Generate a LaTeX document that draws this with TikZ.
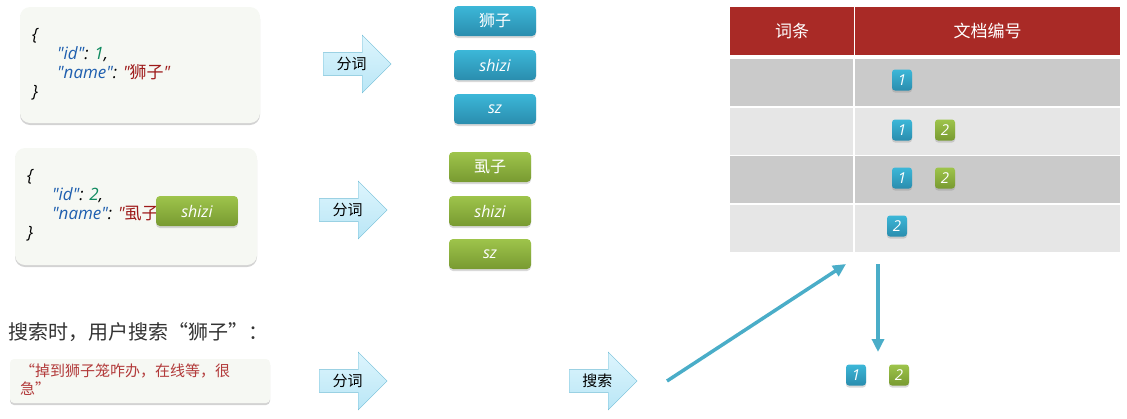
\documentclass[tikz,border=0pt]{standalone}
\usepackage{fontspec}
\setmainfont{Noto Sans CJK SC}
\newfontfamily\hand{Open Sans}
\usetikzlibrary{shapes.arrows, shadows, arrows.meta}

\definecolor{boxfill}{HTML}{F6F8F3}
\definecolor{arrowtop}{HTML}{DDF5FD}
\definecolor{arrowbot}{HTML}{B9E6F6}
\definecolor{arrowedge}{HTML}{6FBCD6}
\definecolor{bluetop}{HTML}{3CB7D8}
\definecolor{bluebot}{HTML}{2A8DAE}
\definecolor{greentop}{HTML}{9EC44B}
\definecolor{greenbot}{HTML}{789A31}
\definecolor{hdrred}{HTML}{A92A26}
\definecolor{rowdark}{HTML}{CACACA}
\definecolor{rowlight}{HTML}{E6E6E6}
\definecolor{keyblue}{HTML}{1F5FAF}
\definecolor{numgreen}{HTML}{0E8A5F}
\definecolor{strred}{HTML}{9E1A1A}
\definecolor{linkblue}{HTML}{4AADC8}
\definecolor{quotered}{HTML}{B23A3A}
\definecolor{titlegray}{HTML}{333333}

\newcommand{\zh}[1]{{\rmfamily\upshape #1}}

\tikzset{
  docbox/.style={fill=boxfill, rounded corners=10pt,
    drop shadow={shadow xshift=0pt, shadow yshift=-2pt, opacity=0.35}},
  jsontext/.style={align=left, inner sep=0pt, font=\hand\itshape\fontsize{17}{19}\selectfont},
  cutarrow/.style={single arrow, draw=arrowedge, top color=arrowtop, bottom color=arrowbot,
    single arrow head extend=14pt, minimum height=68pt, minimum width=58pt, inner sep=2pt,
    font=\fontsize{15}{15}\selectfont},
  chip/.style={rounded corners=4pt, text=white, minimum width=82pt, minimum height=30pt,
    drop shadow={shadow xshift=0pt, shadow yshift=-2pt, opacity=0.3}},
  bluechip/.style={chip, top color=bluetop, bottom color=bluebot},
  greenchip/.style={chip, top color=greentop, bottom color=greenbot},
  num/.style={chip, rounded corners=3pt, minimum width=20pt, minimum height=21pt, inner sep=0pt,
    font=\hand\itshape\fontsize{15}{15}\selectfont},
  bluenum/.style={num, top color=bluetop, bottom color=bluebot},
  greennum/.style={num, top color=greentop, bottom color=greenbot},
  hdr/.style={fill=hdrred, text=white, minimum height=48pt, inner sep=0pt,
    font=\fontsize{17}{17}\selectfont},
  cell/.style={minimum height=47pt, inner sep=0pt},
  link/.style={draw=linkblue, line width=3.5pt, -{Triangle[length=13pt, width=12pt]}}
}

\begin{document}
\begin{tikzpicture}[x=1pt, y=-1pt]
  \useasboundingbox (0,0) rectangle (1127,418);
  % Documents
  \node[docbox, minimum width=240pt, minimum height=116pt] (doc1) at (140,65) {};
  \node[jsontext, anchor=west] (json1) at (32,64) {\{\\
    \hspace{25pt}\textcolor{keyblue}{"id"}: \textcolor{numgreen}{1},\\
    \hspace{25pt}\textcolor{keyblue}{"name"}: \textcolor{strred}{"\zh{狮子}"}\\
    \}};
  \node[docbox, minimum width=242pt, minimum height=117pt] (doc2) at (136,206.5) {};
  \node[jsontext, anchor=west] (json2) at (27,205) {\{\\
    \hspace{25pt}\textcolor{keyblue}{"id"}: \textcolor{numgreen}{2},\\
    \hspace{25pt}\textcolor{keyblue}{"name"}: \textcolor{strred}{"\zh{虱子}"}\\
    \}};
  \node[greenchip, font=\hand\itshape\fontsize{16}{16}\selectfont] (tag) at (197,211) {shizi};
  % Tokenize
  \node[cutarrow, anchor=tail] (cut1) at (323,64) {分词};
  \node[cutarrow, anchor=tail] (cut2) at (319,210) {分词};
  \node[bluechip, font=\fontsize{16}{16}\selectfont] (b1) at (495,21) {狮子};
  \node[bluechip, font=\hand\itshape\fontsize{16}{16}\selectfont] (b2) at (495,65) {shizi};
  \node[bluechip, font=\hand\itshape\fontsize{16}{16}\selectfont] (b3) at (495,109) {sz};
  \node[greenchip, font=\fontsize{16}{16}\selectfont] (g1) at (490,167) {虱子};
  \node[greenchip, font=\hand\itshape\fontsize{16}{16}\selectfont] (g2) at (490,211) {shizi};
  \node[greenchip, font=\hand\itshape\fontsize{16}{16}\selectfont] (g3) at (490,254) {sz};
  % Index table
  \node[hdr, minimum width=124pt] (h1) at (792,31) {词条};
  \node[hdr, minimum width=265pt] (h2) at (987.5,31) {文档编号};
  \foreach \i/\y/\c in {1/82.5/rowdark, 2/131/rowlight, 3/179.5/rowdark, 4/228.5/rowlight} {
    \node[cell, fill=\c, minimum width=123pt] (t\i) at (791.5,\y) {};
    \node[cell, fill=\c, minimum width=265pt] (p\i) at (987.5,\y) {};
  }
  \node[bluenum] (n11) at (902,80) {1};
  \node[bluenum] (n21) at (902,130) {1};
  \node[greennum] (n22) at (945,130) {2};
  \node[bluenum] (n31) at (902,178) {1};
  \node[greennum] (n32) at (945,178) {2};
  \node[bluenum] (n41) at (897,226) {2};
  % Search
  \node[anchor=west, text=titlegray, font=\fontsize{20}{20}\selectfont] (ask) at (5,332) {搜索时，用户搜索“狮子”：};
  \node[docbox, rounded corners=4pt, minimum width=260pt, minimum height=44pt] (query) at (140,381) {};
  \node[anchor=north west, align=left, inner sep=0pt, text=quotered, font=\fontsize{15}{18}\selectfont] (qtext) at (20,364) {“掉到狮子笼咋办，在线等，很\\急”};
  \node[cutarrow, anchor=tail] (cut3) at (319,381) {分词};
  \node[cutarrow, anchor=tail] (find) at (569,381) {搜索};
  \node[bluenum] (r1) at (856,375) {1};
  \node[greennum] (r2) at (899,375) {2};
  \coordinate (from) at (667,381);
  \coordinate (to) at (846,264);
  \coordinate (hits) at (878,264);
  \coordinate (res) at (878,352);
  \draw[link] (from) -- (to);
  \draw[link] (hits) -- (res);
\end{tikzpicture}
\end{document}
